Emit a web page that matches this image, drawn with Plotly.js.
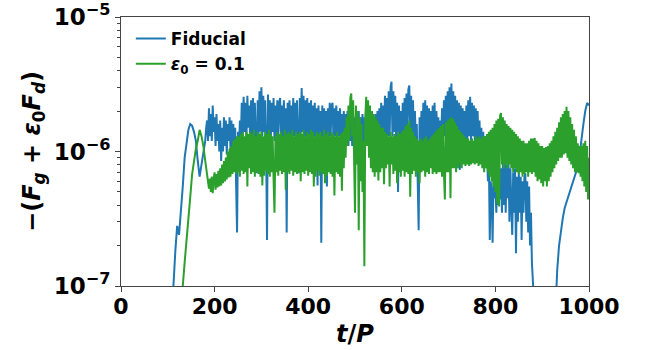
<!DOCTYPE html>
<html>
<head>
<meta charset="utf-8">
<script src="https://cdn.plot.ly/plotly-3.0.1.min.js"></script>
<style>html,body{margin:0;padding:0;background:#fff;}#chart{width:649px;height:350px;}</style>
</head>
<body>
<div id="chart"></div>
<script>
// Fiducial run: time t/P and -(Fg + eps0 Fd)
const tFid = [108,112,116,120,124,128,132,136,140,144,148,152,156,160,164,168,172,176,
180,182,184,186,188,190,192,194,196,198,
200,202,204,206,208,210,212,214,216,218,
220,222,224,226,228,230,232,234,236,238,
240,242,244,246,248,250,252,254,256,258,
260,262,264,266,268,270,272,274,276,278,
280,282,284,286,288,290,292,294,296,298,
300,302,304,306,308,310,312,314,316,318,
320,322,324,326,328,330,332,334,336,338,
340,342,344,346,348,350,352,354,356,358,
360,362,364,366,368,370,372,374,376,378,
380,382,384,386,388,390,392,394,396,398,
400,402,404,406,408,410,412,414,416,418,
420,422,424,426,428,430,432,434,436,438,
440,442,444,446,448,450,452,454,456,458,
460,462,464,466,468,470,472,474,476,478,
480,482,484,486,488,490,492,494,496,498,
500,502,504,506,508,510,512,514,516,518,
520,522,524,526,528,530,532,534,536,538,
540,542,544,546,548,550,552,554,556,558,
560,562,564,566,568,570,572,574,576,578,
580,582,584,586,588,590,592,594,596,598,
600,602,604,606,608,610,612,614,616,618,
620,622,624,626,628,630,632,634,636,638,
640,642,644,646,648,650,652,654,656,658,
660,662,664,666,668,670,672,674,676,678,
680,682,684,686,688,690,692,694,696,698,
700,702,704,706,708,710,712,714,716,718,
720,722,724,726,728,730,732,734,736,738,
740,742,744,746,748,750,752,754,756,758,
760,762,764,766,768,770,772,774,776,778,
780,782,784,786,788,790,792,794,796,798,
800,802,804,806,808,810,812,814,816,818,
820,822,824,826,828,830,832,834,836,838,
840,842,844,846,848,850,852,854,856,858,
860,862,864,866,868,870,872,874,876,878,
880,884,928,932,936,940,944,948,952,956,
960,964,968,972,976,980,984,988,992,996,1000];
const fFid = [8e-8,1.0e-7,1.8e-7,2.8e-7,2.4e-7,4.0e-7,5.5e-7,9.0e-7,1.2e-6,1.45e-6,1.6e-6,1.55e-6,1.4e-6,1.2e-6,8.5e-7,6.5e-7,8.0e-7,9.5e-7,
1.2e-6,1.5e-6,1.7e-6,1.2e-6,2.1e-6,1.3e-6,1.9e-6,1.2e-6,2.2e-6,1.4e-6,
1.8e-6,1.1e-6,1.9e-6,1.2e-6,1.6e-6,1.0e-6,1.7e-6,8.5e-7,1.5e-6,1.0e-6,
1.8e-6,1.1e-6,1.7e-6,9.5e-7,1.6e-6,1.2e-6,1.8e-6,1.0e-6,1.7e-6,8.0e-7,
1.6e-6,9.0e-7,1.5e-6,5.6e-7,2.5e-7,1.4e-6,1.0e-6,1.7e-6,1.2e-6,2.3e-6,
1.3e-6,2.55e-6,1.4e-6,2.3e-6,1.2e-6,2.6e-6,1.5e-6,2.2e-6,1.2e-6,2.4e-6,
1.3e-6,2.5e-6,1.4e-6,2.3e-6,1.2e-6,6.9e-7,2.4e-6,1.3e-6,2.8e-6,1.4e-6,
3.0e-6,1.3e-6,2.6e-6,1.4e-6,2.4e-6,1.2e-6,2.2e-7,2.65e-6,1.3e-6,2.4e-6,
1.2e-6,2.3e-6,1.4e-6,2.5e-6,1.2e-6,2.2e-6,1.3e-6,2.4e-6,1.2e-6,2.3e-6,
2.5e-6,1.3e-6,2.2e-6,1.2e-6,2.4e-6,1.3e-6,2.1e-6,2.5e-7,2.3e-6,1.2e-6,
2.4e-6,1.3e-6,2.2e-6,1.2e-6,2.5e-6,1.3e-6,2.3e-6,1.2e-6,2.4e-6,1.3e-6,
6.9e-7,2.5e-6,1.3e-6,2.97e-6,1.4e-6,2.6e-6,1.2e-6,2.4e-6,1.3e-6,2.5e-6,
1.2e-6,2.3e-6,1.3e-6,2.4e-6,1.2e-6,2.2e-6,1.3e-6,2.3e-6,1.2e-6,2.1e-6,
5.6e-7,2.2e-6,1.3e-6,2.0e-6,2.1e-7,2.2e-6,1.2e-6,2.1e-6,1.3e-6,2.0e-6,
5.5e-7,2.1e-6,1.2e-6,2.3e-6,1.3e-6,2.2e-6,2.3e-6,1.2e-6,2.1e-6,1.3e-6,
2.2e-6,1.2e-6,2.0e-6,1.3e-6,2.1e-6,1.2e-6,1.9e-6,1.2e-6,2.0e-6,1.3e-6,
1.9e-6,1.2e-6,2.0e-6,1.1e-6,1.8e-6,1.2e-6,2.0e-6,1.1e-6,1.9e-6,1.2e-6,
1.8e-6,1.1e-6,1.9e-6,1.2e-6,2.0e-6,1.1e-6,1.8e-6,1.2e-6,1.9e-6,1.1e-6,
1.8e-6,1.2e-6,1.9e-6,1.1e-6,1.8e-6,1.2e-6,1.9e-6,1.1e-6,2.0e-6,1.2e-6,
1.8e-6,1.1e-6,1.9e-6,1.2e-6,2.0e-6,1.1e-6,2.1e-6,1.2e-6,2.3e-6,1.2e-6,
2.2e-6,1.2e-6,2.6e-6,1.3e-6,2.5e-6,1.3e-6,2.8e-6,1.3e-6,3.0e-6,3.3e-6,
1.3e-6,2.8e-6,1.4e-6,2.6e-6,1.2e-6,2.3e-6,5.0e-7,2.2e-6,1.2e-6,2.0e-6,
1.1e-6,2.3e-6,1.3e-6,2.5e-6,1.2e-6,2.7e-6,1.3e-6,2.9e-6,3.1e-6,1.4e-6,
2.6e-6,1.2e-6,2.4e-6,1.1e-6,2.0e-6,1.2e-6,1.6e-6,6.0e-7,2.6e-7,1.8e-6,
1.1e-6,2.0e-6,1.2e-6,2.3e-6,1.1e-6,2.4e-6,1.2e-6,2.2e-6,1.1e-6,2.1e-6,
1.2e-6,2.0e-6,1.1e-6,2.2e-6,1.2e-6,2.3e-6,1.1e-6,2.0e-6,1.2e-6,1.8e-6,
1.1e-6,1.7e-6,1.2e-6,2.1e-6,1.2e-6,2.4e-6,1.3e-6,2.6e-6,1.2e-6,2.8e-6,
1.3e-6,3.0e-6,1.4e-6,3.2e-6,1.3e-6,2.8e-6,1.2e-6,2.6e-6,1.3e-6,2.4e-6,
1.2e-6,2.3e-6,7.3e-7,2.2e-6,1.1e-6,2.1e-6,1.2e-6,2.0e-6,1.1e-6,2.2e-6,
1.2e-6,2.4e-6,1.3e-6,2.55e-6,1.2e-6,2.3e-6,1.3e-6,2.2e-6,1.2e-6,2.1e-6,
1.2e-6,2.0e-6,1.1e-6,1.7e-6,1.0e-6,1.5e-6,9.5e-7,1.4e-6,9.0e-7,1.3e-6,
8.5e-7,1.0e-6,6.0e-7,9.0e-7,2.2e-7,6.0e-7,5.0e-7,2.1e-7,6.5e-7,4.5e-7,
5.5e-7,3.5e-7,7.0e-7,4.0e-7,8.0e-7,4.4e-7,7.5e-7,3.5e-7,8.5e-7,4.0e-7,
9.0e-7,3.5e-7,8.0e-7,4.5e-7,8.5e-7,3.0e-7,7.5e-7,4.0e-7,2.4e-7,7.0e-7,
3.5e-7,7.5e-7,1.75e-7,6.5e-7,3.0e-7,7.0e-7,3.5e-7,6.5e-7,2.2e-7,6.0e-7,
3.5e-7,6.5e-7,6.9e-7,3.0e-7,6.0e-7,2.5e-7,5.5e-7,2.0e-7,3.5e-7,1.5e-7,
9e-8,6e-8,6e-8,1.3e-7,2.0e-7,2.6e-7,3.2e-7,3.8e-7,4.2e-7,4.6e-7,
5.0e-7,5.5e-7,6.2e-7,7.0e-7,7.7e-7,9.5e-7,1.3e-6,1.6e-6,2.0e-6,2.3e-6,2.2e-6];

// eps0 = 0.1 run
const tEps = [128,132,136,140,144,148,152,156,160,164,168,172,176,
180,182,184,186,188,190,192,194,196,198,
200,202,204,206,208,210,212,214,216,218,
220,222,224,226,228,230,232,234,236,238,
240,242,244,246,248,250,252,254,256,258,
260,262,264,266,268,270,272,274,276,278,
280,282,284,286,288,290,292,294,296,298,
300,302,304,306,308,310,312,314,316,318,
320,322,324,326,328,330,332,334,336,338,
340,342,344,346,348,350,352,354,356,358,
360,362,364,366,368,370,372,374,376,378,
380,382,384,386,388,390,392,394,396,398,
400,402,404,406,408,410,412,414,416,418,
420,422,424,426,428,430,432,434,436,438,
440,442,444,446,448,450,452,454,456,458,
460,462,464,466,468,470,472,474,476,478,
480,482,484,486,488,490,492,494,496,498,
500,502,504,506,508,510,512,514,516,518,
520,522,524,526,528,530,532,534,536,538,
540,542,544,546,548,550,552,554,556,558,
560,562,564,566,568,570,572,574,576,578,
580,582,584,586,588,590,592,594,596,598,
600,602,604,606,608,610,612,614,616,618,
620,622,624,626,628,630,632,634,636,638,
640,642,644,646,648,650,652,654,656,658,
660,662,664,666,668,670,672,674,676,678,
680,682,684,686,688,690,692,694,696,698,
700,702,704,706,708,710,712,714,716,718,
720,722,724,726,728,730,732,734,736,738,
740,742,744,746,748,750,752,754,756,758,
760,762,764,766,768,770,772,774,776,778,
780,782,784,786,788,790,792,794,796,798,
800,802,804,806,808,810,812,814,816,818,
820,822,824,826,828,830,832,834,836,838,
840,842,844,846,848,850,852,854,856,858,
860,862,864,866,868,870,872,874,876,878,
880,882,884,886,888,890,892,894,896,898,
900,902,904,906,908,910,912,914,916,918,
920,922,924,926,928,930,932,934,936,938,
940,942,944,946,948,950,952,954,956,958,
960,962,964,966,968,970,972,974,976,978,
980,982,984,986,988,990,992,994,996,998,1000];
const fEps = [8e-8,1.0e-7,1.5e-7,2.3e-7,3.2e-7,4.6e-7,6.8e-7,8.5e-7,1.05e-6,1.2e-6,1.45e-6,1.3e-6,1.1e-6,
8.5e-7,7.5e-7,6.5e-7,6.0e-7,5.3e-7,6.3e-7,5.0e-7,6.5e-7,4.9e-7,6.2e-7,
7.0e-7,5.2e-7,6.8e-7,5.4e-7,7.2e-7,5.5e-7,7.5e-7,5.6e-7,8.0e-7,5.8e-7,
8.5e-7,6.0e-7,9.0e-7,6.2e-7,1.0e-6,6.4e-7,1.05e-6,6.5e-7,1.1e-6,6.8e-7,
1.2e-6,7.0e-7,1.25e-6,6.8e-7,1.3e-6,7.0e-7,1.3e-6,6.5e-7,1.35e-6,7.2e-7,
1.4e-6,6.8e-7,1.3e-6,7.0e-7,1.4e-6,5.5e-7,1.35e-6,7.5e-7,1.4e-6,6.8e-7,
1.35e-6,7.0e-7,1.45e-6,6.5e-7,1.3e-6,7.0e-7,1.4e-6,6.8e-7,1.35e-6,6.5e-7,
1.4e-6,5.6e-7,1.3e-6,6.6e-7,1.4e-6,7.2e-7,1.35e-6,6.8e-7,1.45e-6,6.5e-7,
1.35e-6,7.0e-7,1.3e-6,6.2e-7,3.5e-7,1.3e-6,7.0e-7,1.4e-6,6.6e-7,1.35e-6,
7.2e-7,1.4e-6,6.8e-7,1.3e-6,7.0e-7,1.45e-6,5.2e-7,1.35e-6,7.0e-7,1.4e-6,
6.8e-7,1.35e-6,7.2e-7,1.45e-6,6.6e-7,1.3e-6,7.0e-7,1.4e-6,6.8e-7,1.35e-6,
7.0e-7,1.4e-6,6.0e-7,1.35e-6,7.0e-7,1.45e-6,6.8e-7,1.3e-6,7.2e-7,1.4e-6,
6.6e-7,1.35e-6,7.0e-7,1.45e-6,6.8e-7,1.4e-6,5.5e-7,1.3e-6,6.5e-7,1.4e-6,
7.2e-7,1.35e-6,6.6e-7,1.4e-6,7.0e-7,1.3e-6,6.8e-7,1.45e-6,5.8e-7,1.35e-6,
6.6e-7,1.4e-6,7.0e-7,1.3e-6,6.8e-7,1.4e-6,6.5e-7,1.35e-6,4.7e-7,1.3e-6,
7.0e-7,1.4e-6,6.8e-7,1.3e-6,6.5e-7,1.35e-6,5.1e-7,1.4e-6,7.5e-7,1.5e-6,
9.0e-7,1.8e-6,1.1e-6,2.2e-6,1.2e-6,2.5e-6,2.7e-6,1.3e-6,2.4e-6,9.0e-7,
3.5e-7,2.2e-6,8.0e-7,2.0e-6,2.6e-7,1.8e-6,6.0e-7,1.6e-6,5.0e-7,1.2e-6,
1.4e-7,1.8e-6,2.55e-6,1.1e-6,2.4e-6,9.0e-7,2.2e-6,7.5e-7,2.0e-6,7.0e-7,
1.9e-6,6.5e-7,1.8e-6,7.0e-7,1.7e-6,6.1e-7,1.6e-6,7.0e-7,1.5e-6,7.5e-7,
1.5e-6,5.7e-7,1.4e-6,7.5e-7,1.35e-6,8.0e-7,1.3e-6,5.5e-7,1.4e-6,8.0e-7,
1.3e-6,6.8e-7,1.35e-6,7.2e-7,1.3e-6,5.8e-7,1.4e-6,7.0e-7,1.35e-6,6.5e-7,
1.4e-6,7.2e-7,1.45e-6,6.5e-7,1.55e-6,7.0e-7,1.6e-6,6.8e-7,1.7e-6,4.6e-7,
1.5e-6,6.8e-7,1.4e-6,7.2e-7,1.3e-6,6.5e-7,1.25e-6,7.0e-7,1.2e-6,5.8e-7,
1.25e-6,7.0e-7,1.2e-6,7.2e-7,1.25e-6,6.5e-7,1.3e-6,7.0e-7,1.2e-6,6.8e-7,
1.25e-6,7.5e-7,1.3e-6,6.8e-7,1.35e-6,7.0e-7,1.4e-6,6.8e-7,1.45e-6,7.0e-7,
1.5e-6,7.0e-7,1.55e-6,6.5e-7,1.6e-6,7.0e-7,4.4e-7,1.65e-6,7.0e-7,1.7e-6,
7.0e-7,1.75e-6,4.5e-7,1.8e-6,7.5e-7,1.75e-6,7.5e-7,1.65e-6,7.0e-7,1.55e-6,
7.5e-7,1.45e-6,8.0e-7,1.4e-6,7.5e-7,1.35e-6,8.0e-7,1.3e-6,7.8e-7,1.25e-6,
8.0e-7,1.25e-6,7.8e-7,1.2e-6,8.0e-7,1.25e-6,8.2e-7,1.2e-6,8.0e-7,1.3e-6,
8.2e-7,1.25e-6,7.8e-7,1.3e-6,8.0e-7,1.25e-6,7.5e-7,1.3e-6,7.0e-7,1.3e-6,
7.5e-7,1.35e-6,7.0e-7,1.4e-6,6.5e-7,1.45e-6,6.0e-7,1.5e-6,5.5e-7,1.6e-6,
5.0e-7,1.7e-6,4.1e-7,1.75e-6,3.9e-7,1.85e-6,1.93e-6,8.0e-7,1.8e-6,7.5e-7,
1.7e-6,8.0e-7,1.6e-6,7.5e-7,1.55e-6,8.0e-7,1.5e-6,7.5e-7,1.45e-6,7.0e-7,
1.4e-6,7.5e-7,1.35e-6,7.0e-7,1.3e-6,6.8e-7,1.25e-6,7.0e-7,1.2e-6,6.5e-7,
1.2e-6,6.8e-7,1.15e-6,7.0e-7,1.15e-6,6.5e-7,1.2e-6,7.0e-7,1.25e-6,6.8e-7,
1.25e-6,7.0e-7,1.26e-6,6.5e-7,1.2e-6,6.0e-7,1.15e-6,6.2e-7,1.1e-6,5.8e-7,
1.1e-6,5.5e-7,1.06e-6,6.0e-7,1.08e-6,5.5e-7,1.1e-6,6.0e-7,1.15e-6,6.5e-7,
1.2e-6,7.0e-7,1.3e-6,7.5e-7,1.4e-6,8.0e-7,1.5e-6,8.5e-7,1.65e-6,9.0e-7,
1.8e-6,9.0e-7,1.9e-6,9.5e-7,2.0e-6,9.7e-7,2.15e-6,9.0e-7,2.0e-6,8.5e-7,
1.8e-6,8.0e-7,1.6e-6,7.5e-7,1.45e-6,7.0e-7,1.3e-6,7.0e-7,1.15e-6,6.9e-7,
1.1e-6,6.5e-7,1.1e-6,6.0e-7,1.15e-6,5.5e-7,1.2e-6,5.0e-7,1.1e-6,4.4e-7,9.0e-7];

const xTickVals = [0,200,400,600,800,1000];
const yTickVals = [1e-7,1e-6,1e-5];
const yTickText = ['10<sup>\u22127</sup>','10<sup>\u22126</sup>','10<sup>\u22125</sup>'];
const yMinorVals = [2e-7,3e-7,4e-7,5e-7,6e-7,7e-7,8e-7,9e-7,2e-6,3e-6,4e-6,5e-6,6e-6,7e-6,8e-6,9e-6];

const FONT = 'DejaVu Sans, sans-serif';
const traces = [
  {x: tFid, y: fFid, type: 'scatter', mode: 'lines', name: 'Fiducial',
   line: {color: '#1f77b4', width: 2}},
  {x: tEps, y: fEps, type: 'scatter', mode: 'lines', name: '<i>\u03b5</i><sub>0</sub> = 0.1',
   line: {color: '#2ca02c', width: 2}}
];
const layout = {
  width: 649, height: 350,
  margin: {l: 121, r: 60, t: 17, b: 64},
  paper_bgcolor: '#fff', plot_bgcolor: '#fff',
  showlegend: true,
  legend: {x: 0.021, y: 0.985, xanchor: 'left', yanchor: 'top', bgcolor: 'rgba(0,0,0,0)',
    font: {family: FONT, size: 17, color: '#000', weight: 'bold'}, tracegroupgap: 0},
  xaxis: {range: [0, 1000], tickmode: 'array', tickvals: xTickVals,
    showgrid: false, zeroline: false, showline: true, mirror: true, linecolor: '#444', linewidth: 1,
    ticks: 'outside', ticklen: 5, tickwidth: 1, tickcolor: '#444', ticklabelstandoff: -4,
    tickfont: {family: FONT, size: 22, color: '#000', weight: 'bold'},
    title: {text: '<i>t</i>/<i>P</i>', font: {family: FONT, size: 24, color: '#000', weight: 'bold'}, standoff: 6}},
  yaxis: {type: 'log', range: [-7, -5], tickmode: 'array', tickvals: yTickVals, ticktext: yTickText,
    showgrid: false, zeroline: false, showline: true, mirror: true, linecolor: '#444', linewidth: 1,
    ticks: 'outside', ticklen: 5, tickwidth: 1, tickcolor: '#444',
    tickfont: {family: FONT, size: 23, color: '#000', weight: 'bold'},
    minor: {tickmode: 'array', tickvals: yMinorVals, ticks: 'outside', ticklen: 3, tickwidth: 1, tickcolor: '#444', showgrid: false},
    title: {text: '\u2212(<i>F</i><sub><i>g</i></sub> + <i>\u03b5</i><sub>0</sub><i>F</i><sub><i>d</i></sub>)',
      font: {family: FONT, size: 24, color: '#000', weight: 'bold'}, standoff: 6}}
};
Plotly.newPlot('chart', traces, layout, {displayModeBar: false, staticPlot: true});
</script>
</body>
</html>
